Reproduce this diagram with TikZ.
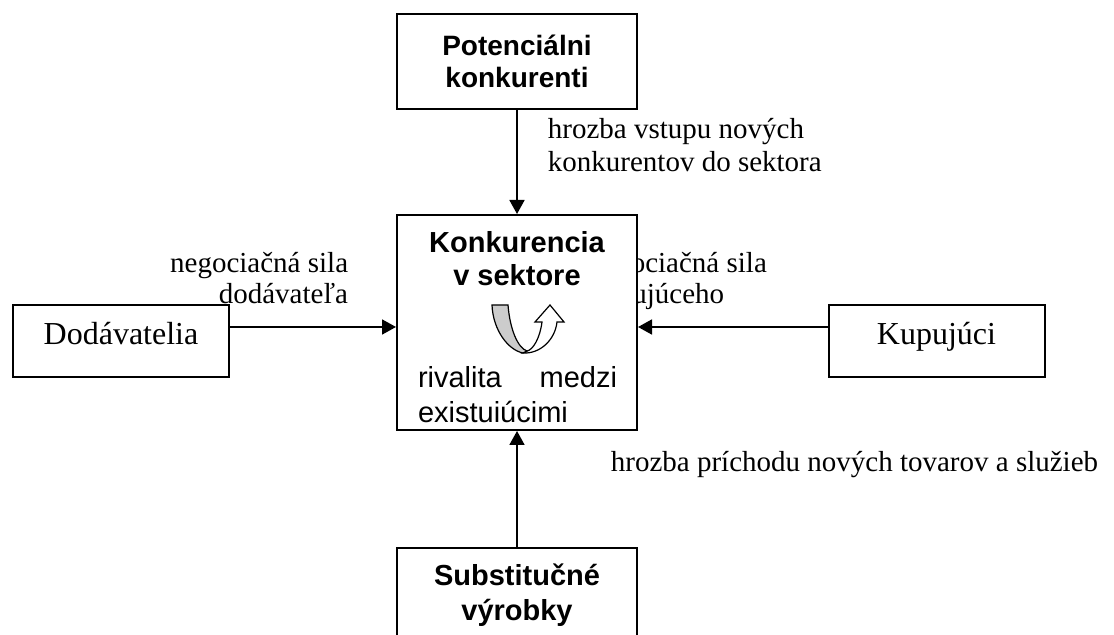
\documentclass[tikz,border=0pt]{standalone}
\usepackage{fontspec}
\setmainfont{Liberation Serif}
\setsansfont{Liberation Sans}
\usetikzlibrary{arrows.meta, positioning}

\tikzset{
    forcebox/.style={draw, line width=1pt, fill=white, inner sep=0pt, align=center},
    sidebox/.style={forcebox, minimum width=108pt, minimum height=36pt,
        font=\fontsize{16}{18}\selectfont, text height=4pt, text depth=0pt},
    mainbox/.style={forcebox, minimum width=120pt,
        font=\sffamily\bfseries\fontsize{14.5}{17.5}\selectfont},
    forcelbl/.style={inner sep=0pt, font=\fontsize{14.5}{15.5}\selectfont}
}

\begin{document}
\begin{tikzpicture}[x=0.5pt, y=-0.5pt, line width=0.9pt,
    >={Triangle[length=7pt,width=7.5pt]}]
    \useasboundingbox (0,0) rectangle (1114,635);

    % Labels of the forces
    \node[forcelbl, font=\fontsize{14.5}{16.5}\selectfont, anchor=north west, align=left]
        (lblentry) at (547,117) {hrozba vstupu nových\\konkurentov do sektora};
    \node[forcelbl, anchor=north east, align=right]
        (lblsupp) at (349,251) {negociačná sila\\dodávateľa};
    \node[forcelbl, anchor=north west, align=left]
        (lblbuy) at (588,251) {negociačná sila\\kupujúceho};
    \node[forcelbl, anchor=base west]
        (lblsubst) at (610,472) {hrozba príchodu nových tovarov a služieb};

    % Boxes
    \node[mainbox, font=\sffamily\bfseries\fontsize{14}{16}\selectfont, minimum height=47.5pt]
        (potential) at (517,61.5) {Potenciálni\\konkurenti};
    \node[forcebox, minimum width=120pt, minimum height=107.5pt] (core) at (517,322.5) {};
    \node[mainbox, minimum height=47pt] (subst) at (517,595) {Substitučné\\výrobky};
    \node[sidebox] (supp) at (121,341) {Dodávatelia};
    \node[sidebox] (buyer) at (936.5,341) {Kupujúci};

    % Texts inside the core box
    \node[inner sep=0pt, align=center, font=\sffamily\bfseries\fontsize{14.5}{16.5}\selectfont]
        (corehead) at (517,259) {Konkurencia\\v sektore};
    \node[inner sep=0pt, text width=99.5pt, align=left, font=\sffamily\fontsize{14.5}{17.5}\selectfont]
        (corerival) at (517.5,395) {rivalita\hfill medzi\\existuiúcimi};

    % U-turn arrow
    \draw[line width=0.6pt, fill=white] (523,353) .. controls (540,354) and (555,340) .. (557,322)
        -- (564,322) -- (550,305) -- (535,322) -- (542,322)
        .. controls (540,338) and (533,350) .. (527,351) -- cycle;
    \draw[line width=0.6pt, fill=gray!40] (492,305) -- (508,305)
        .. controls (510,330) and (518,348) .. (527,351) -- (523,353)
        .. controls (508,350) and (493,330) .. (492,305) -- cycle;

    % Arrows
    \coordinate (hy) at (0,327);
    \draw[->] (potential) -- (core);
    \draw[->] (subst) -- (core);
    \draw[->] (supp.east |- hy) -- (core.west |- hy);
    \draw[->] (buyer.west |- hy) -- (core.east |- hy);
\end{tikzpicture}
\end{document}
